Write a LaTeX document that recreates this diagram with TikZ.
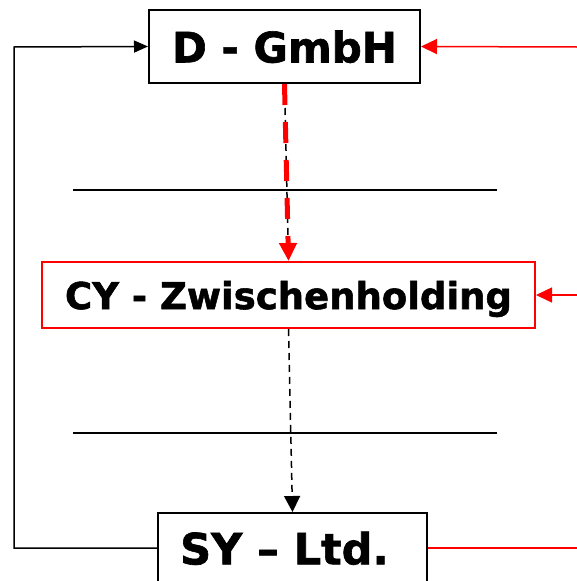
\documentclass[tikz,border=0pt]{standalone}
\usepackage{fontspec}
\setmainfont{DejaVu Sans}[BoldFeatures={FakeBold=1.5}]
\usepackage{xcolor}
\usetikzlibrary{arrows.meta, positioning}

\tikzset{
  entity/.style={draw, line width=2pt, inner sep=0pt, text depth=0pt,
    font=\bfseries\fontsize{42}{50}\selectfont},
  link/.style={line width=1.5pt},
  owns/.style={link, dash pattern=on 7pt off 5pt},
}

\begin{document}
\begin{tikzpicture}[x=1pt, y=-1pt]
  \useasboundingbox (0,0) rectangle (577,581);
  \node[entity, minimum width=271pt, minimum height=73pt] (DGmbH) at (284.5,46.5) {D - GmbH};
  \node[entity, draw=red, minimum width=493pt, minimum height=66pt,
    font=\bfseries\fontsize{37}{44}\selectfont] (CYHold) at (288.5,295) {CY - Zwischenholding};
  \node[entity, minimum width=269pt, minimum height=70pt,
    font=\bfseries\fontsize{43}{51}\selectfont] (SYLtd) at (292.5,548) {SY – Ltd.\kern16pt};
  \coordinate (inD) at (577,47);
  \coordinate (inCY) at (577,295);
  \coordinate (outSY) at (577,548);
  \coordinate (loopB) at (14,548);
  \coordinate (loopT) at (14,47);
  % separators
  \draw[link] (73,190) -- (497,190);
  \draw[link] (73,433) -- (497,433);
  % ownership chain
  \draw[owns] (DGmbH.south) -- (CYHold.north);
  \draw[red, line width=5pt, dash pattern=on 21pt off 17pt,
    -{Triangle[length=18pt, width=17pt]}] (DGmbH.south) -- (CYHold.north);
  \draw[owns, -{Triangle[length=16pt, width=16pt]}] (CYHold.south) -- (SYLtd.north);
  % flows
  \draw[link, -{Triangle[length=14pt, width=12pt]}] (SYLtd.west) -- (loopB) -- (loopT) -- (DGmbH.west);
  \draw[link, red, -{Triangle[length=16pt, width=15pt]}] (inD) -- (DGmbH.east);
  \draw[link, red, -{Triangle[length=16pt, width=15pt]}] (inCY) -- (CYHold.east);
  \draw[link, red] (SYLtd.east) -- (outSY);
\end{tikzpicture}
\end{document}
